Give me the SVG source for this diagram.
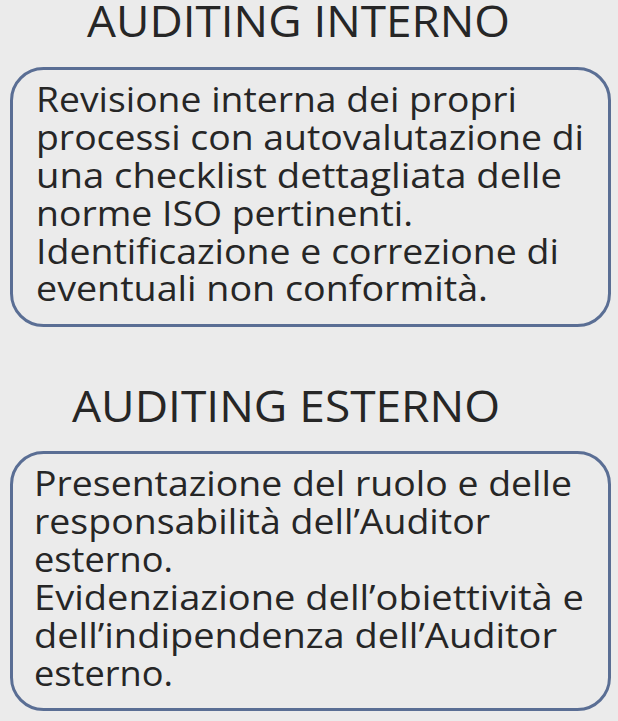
<svg xmlns="http://www.w3.org/2000/svg" width="618" height="721" viewBox="0 0 618 721">
<style>
.bg{fill:#ebebeb}
.box{fill:#ebebeb;stroke:#5a6e94;stroke-width:3}
.h{font-family:"Open Sans","Liberation Sans",sans-serif;font-size:43px;fill:#262626}
.t{font-family:"Open Sans","Liberation Sans",sans-serif;font-size:34px;fill:#262626}
</style>
<rect class="bg" x="0" y="0" width="618" height="721"/>
<g id="title-interno">
<text class="h" x="87" y="37" textLength="423" lengthAdjust="spacingAndGlyphs">AUDITING INTERNO</text>
</g>
<g id="box-interno">
<rect class="box" x="11.5" y="68.5" width="598" height="257" rx="32"/>
<text class="t" x="36" y="112" textLength="481" lengthAdjust="spacingAndGlyphs">Revisione interna dei propri</text>
<text class="t" x="36" y="150" textLength="548" lengthAdjust="spacingAndGlyphs">processi con autovalutazione di</text>
<text class="t" x="36" y="188" textLength="526" lengthAdjust="spacingAndGlyphs">una checklist dettagliata delle</text>
<text class="t" x="36" y="226" textLength="377" lengthAdjust="spacingAndGlyphs">norme ISO pertinenti.</text>
<text class="t" x="36" y="264" textLength="523" lengthAdjust="spacingAndGlyphs">Identificazione e correzione di</text>
<text class="t" x="36" y="301" textLength="452" lengthAdjust="spacingAndGlyphs">eventuali non conformità.</text>
</g>
<g id="title-esterno">
<text class="h" x="72" y="422" textLength="428" lengthAdjust="spacingAndGlyphs">AUDITING ESTERNO</text>
</g>
<g id="box-esterno">
<rect class="box" x="11.5" y="452.5" width="598" height="257" rx="32"/>
<text class="t" x="34" y="496" textLength="538" lengthAdjust="spacingAndGlyphs">Presentazione del ruolo e delle</text>
<text class="t" x="34" y="534" textLength="456" lengthAdjust="spacingAndGlyphs">responsabilità dell’Auditor</text>
<text class="t" x="34" y="572" textLength="139" lengthAdjust="spacingAndGlyphs">esterno.</text>
<text class="t" x="34" y="610" textLength="550" lengthAdjust="spacingAndGlyphs">Evidenziazione dell’obiettività e</text>
<text class="t" x="34" y="648" textLength="523" lengthAdjust="spacingAndGlyphs">dell’indipendenza dell’Auditor</text>
<text class="t" x="34" y="686" textLength="139" lengthAdjust="spacingAndGlyphs">esterno.</text>
</g>
<g id="connectors"/>
</svg>
